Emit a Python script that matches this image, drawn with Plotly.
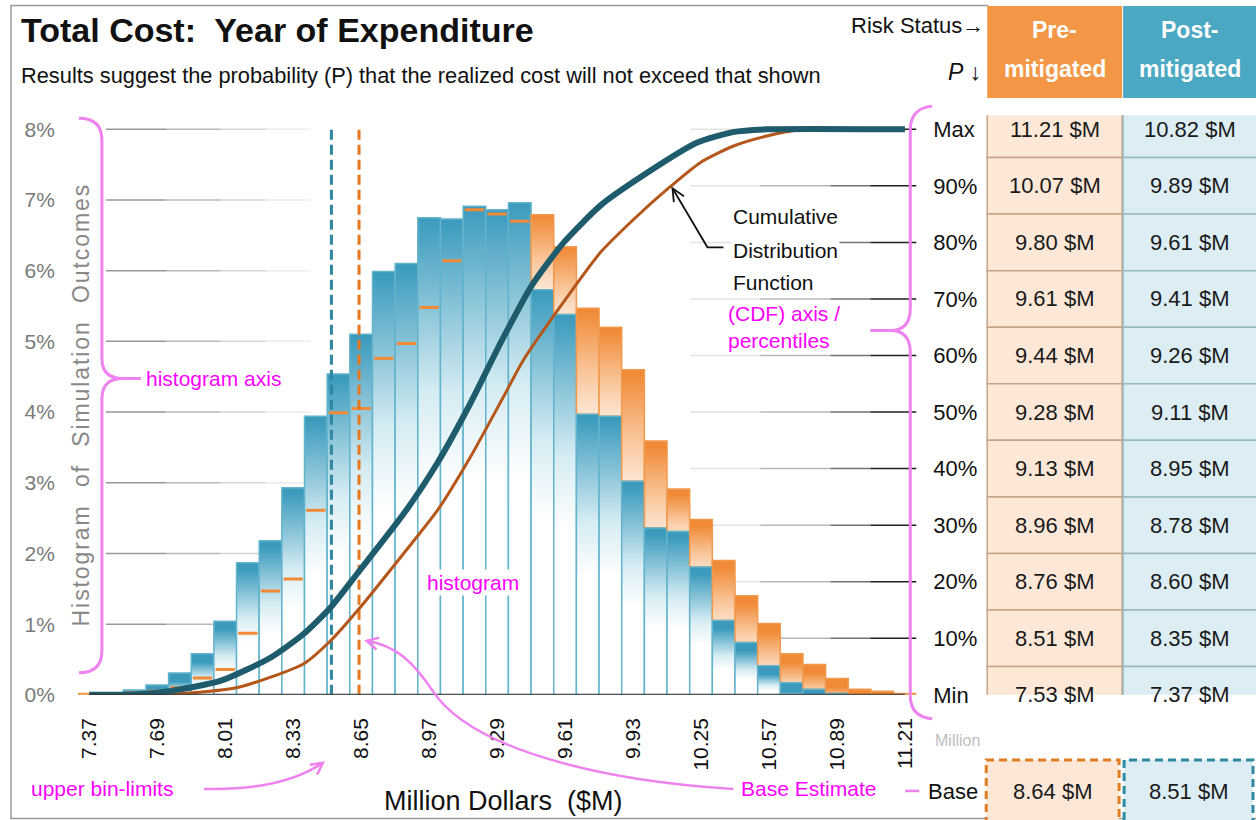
import math
import plotly.graph_objects as go

# reference canvas (pixels); the figure is laid out on a slightly taller page,
# positions are expressed as fractions of the reference canvas
W, H = 1256, 820
FW, FH = 1256, 834

# ---------------- data ----------------
tick_labels = ["7.37", "7.69", "8.01", "8.33", "8.65", "8.97", "9.29",
               "9.61", "9.93", "10.25", "10.57", "10.89", "11.21"]
bins_per_tick = 3

# histogram (% of simulation outcomes per bin)
post_pct = [0.00, 0.02, 0.07, 0.14, 0.31, 0.58, 1.04, 1.87, 2.18, 2.93, 3.94, 4.54,
            5.10, 5.99, 6.10, 6.75, 6.73, 6.91, 6.86, 6.96, 5.73, 5.38, 3.97, 3.94,
            3.02, 2.36, 2.31, 1.81, 1.05, 0.74, 0.41, 0.17, 0.08, 0.02, 0.00, 0.00, 0.00]
pre_pct = [0.02, 0.02, 0.03, 0.05, 0.10, 0.24, 0.36, 0.87, 1.47, 1.64, 2.61, 3.99,
           4.05, 4.76, 4.97, 5.48, 6.14, 6.86, 6.80, 6.70, 6.79, 6.34, 5.47, 5.20,
           4.60, 3.59, 2.91, 2.48, 1.90, 1.40, 1.01, 0.58, 0.43, 0.23, 0.08, 0.05, 0.02]

# cumulative distribution curves
post_cdf_x = [7.37, 7.60, 7.755, 7.99, 8.225, 8.38, 8.507, 8.633, 8.85, 9.009, 9.165,
              9.31, 9.455, 9.604, 9.776, 9.964, 10.23, 10.40, 10.56, 11.21]
post_cdf_y = [0, 0.1, 0.7, 2.5, 6.6, 10.8, 15.5, 21.5, 32.0, 41.0, 51.6,
              62.5, 72.5, 80.0, 86.5, 91.5, 97.6, 99.5, 100, 100]
pre_cdf_x = [7.37, 7.755, 8.069, 8.38, 8.507, 8.633, 8.85, 9.009, 9.165, 9.32, 9.414,
             9.621, 9.776, 9.931, 10.091, 10.246, 10.40, 10.56, 10.716, 10.80, 11.21]
pre_cdf_y = [0, 0.1, 1.3, 5.5, 9.6, 14.9, 25.0, 32.6, 42.1, 52.7, 59.2,
             70.4, 78.2, 84.0, 89.4, 94.1, 97.0, 98.8, 99.9, 100, 100]

base_pre = 8.64
base_post = 8.51

hist_ticks = [0, 1, 2, 3, 4, 5, 6, 7, 8]
hist_ticktext = ["0%", "1%", "2%", "3%", "4%", "5%", "6%", "7%", "8%"]
cdf_ticks = [0, 10, 20, 30, 40, 50, 60, 70, 80, 90, 100]
cdf_ticktext = ["Min", "10%", "20%", "30%", "40%", "50%", "60%", "70%", "80%", "90%", "Max"]

table_levels = [100, 90, 80, 70, 60, 50, 40, 30, 20, 10, 0]
pre_vals = [11.21, 10.07, 9.80, 9.61, 9.44, 9.28, 9.13, 8.96, 8.76, 8.51, 7.53]
post_vals = [10.82, 9.89, 9.61, 9.41, 9.26, 9.11, 8.95, 8.78, 8.60, 8.35, 7.37]

# ---------------- styling ----------------
FONT = "Liberation Sans, Arial, sans-serif"
NARROW = "Liberation Sans Narrow, Arial Narrow, Liberation Sans, Arial, sans-serif"
TEAL = "#3c9bbd"
TEAL_EDGE = "#62b3cc"
ORANGE = "#f08a36"
MAG = "#ff00ff"
PINK = "#ee82ee"

tick_vals = [float(t) for t in tick_labels]
x0v, x1v = tick_vals[0], tick_vals[-1]
bw = (tick_vals[1] - tick_vals[0]) / bins_per_tick
centers = [x0v + k * bw for k in range(len(post_pct))]

# pixel geometry of the plot area (reference pixels)
PX_L, PX_R = 77, 916
PY_B, PY_T = 694, 115
xr = [x0v - bw / 2, x1v + bw / 2]
yr = [0, 8.2]
y2r = [0, 102.5]


def fx(x):
    return x / W


def fy(y):
    return 1 - y / H


def P(x, y):
    return f"{fx(x):.5f},{fy(y):.5f}"


fig = go.Figure()

# ---------------- histogram bars ----------------
for c, hb, ho in zip(centers, post_pct, pre_pct):
    l, r = c - bw / 2, c + bw / 2
    if ho > hb:
        lo = hb
        fig.add_trace(go.Scatter(
            x=[l, l, r, r, l], y=[lo, ho, ho, lo, lo], mode="lines", fill="toself",
            line=dict(color="#f19a4e", width=1.5),
            fillgradient=dict(type="vertical",
                              colorscale=[[0, "#fdeadb"], [0.45, "#f9c497"], [1, ORANGE]],
                              start=lo, stop=ho),
            hoverinfo="skip", showlegend=False))
    if hb > 0:
        fig.add_trace(go.Scatter(
            x=[l, l, r, r, l], y=[0, hb, hb, 0, 0], mode="lines", fill="toself",
            line=dict(color=TEAL_EDGE, width=1.5),
            fillgradient=dict(type="vertical",
                              colorscale=[[0, "#ffffff"], [0.35, "#d5ecf3"], [1, TEAL]],
                              start=hb * 0.45, stop=hb),
            hoverinfo="skip", showlegend=False))

# orange markers where pre-mitigated is below post-mitigated
mx, my = [], []
for c, hb, ho in zip(centers, post_pct, pre_pct):
    if 0 < ho <= hb:
        mx += [c - bw / 2 + 0.008, c + bw / 2 - 0.008, None]
        my += [ho, ho, None]
fig.add_trace(go.Scatter(x=mx, y=my, mode="lines", line=dict(color=ORANGE, width=3),
                         hoverinfo="skip", showlegend=False))

# base estimate lines
fig.add_trace(go.Scatter(x=[base_post, base_post], y=[0, 8.05], mode="lines",
                         line=dict(color="#2e86a0", width=3, dash="10px,5px"),
                         hoverinfo="skip", showlegend=False))
fig.add_trace(go.Scatter(x=[base_pre, base_pre], y=[0, 8.05], mode="lines",
                         line=dict(color="#e5771f", width=3, dash="10px,5px"),
                         hoverinfo="skip", showlegend=False))

# CDF curves
fig.add_trace(go.Scatter(x=pre_cdf_x, y=pre_cdf_y, yaxis="y2", mode="lines",
                         line=dict(color="#b5561b", width=3, shape="spline", smoothing=0.6),
                         hoverinfo="skip", showlegend=False))
fig.add_trace(go.Scatter(x=post_cdf_x, y=post_cdf_y, yaxis="y2", mode="lines",
                         line=dict(color="#1e5b6c", width=6, shape="spline", smoothing=0.6),
                         hoverinfo="skip", showlegend=False))

shapes = []
annotations = []

# frame
shapes.append(dict(type="path", xref="paper", yref="paper",
                   path=f"M {P(988, 5.5)} L {P(10, 5.5)} L {P(10, 817.5)} L {P(1256, 817.5)}",
                   line=dict(color="#9a9a9a", width=1.5), layer="below"))

# fading grid lines (histogram axis, left)
for v in hist_ticks[1:]:
    for (a, b, op) in [(105, 165, 0.55), (165, 220, 0.38), (220, 265, 0.22), (265, 310, 0.1)]:
        shapes.append(dict(type="line", xref="paper", yref="y", x0=fx(a), x1=fx(b),
                           y0=v, y1=v, line=dict(color=f"rgba(70,70,70,{op})", width=1.5),
                           layer="below"))
# fading grid lines (CDF axis, right)
for v in cdf_ticks[1:]:
    for (a, b, op) in [(690, 760, 0.12), (760, 830, 0.3), (830, 870, 0.6), (870, 916, 0.95)]:
        shapes.append(dict(type="line", xref="paper", yref="y2", x0=fx(a), x1=fx(b),
                           y0=v, y1=v, line=dict(color=f"rgba(20,20,20,{op})", width=1.5),
                           layer="below"))

# baseline
shapes.append(dict(type="line", xref="x", yref="y", x0=x0v, x1=x1v, y0=0, y1=0,
                   line=dict(color="#333333", width=2)))

# braces
left_brace = (f"M {P(78,118)} Q {P(101,118)} {P(101,140)} L {P(101,358)} "
              f"Q {P(101,378)} {P(122,378)} L {P(140,378)} M {P(122,378)} "
              f"Q {P(101,378)} {P(101,398)} L {P(101,650)} Q {P(101,672)} {P(78,672)}")
right_brace = (f"M {P(932,106)} Q {P(910,108)} {P(910,130)} L {P(910,308)} "
               f"Q {P(910,330)} {P(890,330)} L {P(870,330)} M {P(890,330)} "
               f"Q {P(910,330)} {P(910,352)} L {P(910,695)} Q {P(910,716)} {P(932,718)}")
for pth in (left_brace, right_brace):
    shapes.append(dict(type="path", xref="paper", yref="paper", path=pth,
                       line=dict(color=PINK, width=3)))


def head(tip, tail, size=13, ang=28):
    dx, dy = tail[0] - tip[0], tail[1] - tip[1]
    L = math.hypot(dx, dy)
    ux, uy = dx / L, dy / L
    pts = []
    for s in (1, -1):
        a = math.radians(ang * s)
        rx = ux * math.cos(a) - uy * math.sin(a)
        ry = ux * math.sin(a) + uy * math.cos(a)
        pts.append((tip[0] + size * rx, tip[1] + size * ry))
    return f"M {P(*pts[0])} L {P(*tip)} L {P(*pts[1])}"


# magenta arrows
arr1 = f"M {P(203,788)} Q {P(280,790)} {P(322,762)}"
arr2 = (f"M {P(733,788)} C {P(600,780)} {P(470,748)} {P(432,690)} "
        f"C {P(412,660)} {P(395,645)} {P(366,640)}")
shapes.append(dict(type="path", xref="paper", yref="paper", path=arr1, line=dict(color=PINK, width=2.5)))
shapes.append(dict(type="path", xref="paper", yref="paper", path=head((322, 762), (300, 778)),
                   line=dict(color=PINK, width=2.5)))
shapes.append(dict(type="path", xref="paper", yref="paper", path=arr2, line=dict(color=PINK, width=2.5)))
shapes.append(dict(type="path", xref="paper", yref="paper", path=head((366, 640), (390, 646)),
                   line=dict(color=PINK, width=2.5)))
shapes.append(dict(type="path", xref="paper", yref="paper", path=f"M {P(905,790)} L {P(919,790)}",
                   line=dict(color=PINK, width=2.5)))
# black CDF arrow
shapes.append(dict(type="path", xref="paper", yref="paper",
                   path=f"M {P(723,247)} L {P(707,247)} L {P(672,188)}",
                   line=dict(color="#111111", width=1.8)))
shapes.append(dict(type="path", xref="paper", yref="paper", path=head((672, 188), (707, 247), 14, 25),
                   line=dict(color="#111111", width=1.8)))


def ann(text, x, y, size, color="#111111", xanchor="left", yanchor="middle", family=FONT,
        bg=None, **kw):
    d = dict(text=text, x=fx(x), y=fy(y), xref="paper", yref="paper", showarrow=False,
             xanchor=xanchor, yanchor=yanchor, font=dict(size=size, color=color, family=family))
    if bg:
        d["bgcolor"] = bg
    d.update(kw)
    annotations.append(d)


# titles
ann("<b>Total Cost:\u00a0 Year of Expenditure</b>", 18, 30, 34)
ann("Results suggest the probability (P) that the realized cost will not exceed that shown",
    18, 75, 21.8, family=NARROW)
ann("Risk Status\u2192", 986, 25, 22, xanchor="right", family=NARROW)
ann("<i>P</i> \u2193", 983, 72, 23, xanchor="right")
ytitle = "\u00a0\u00a0\u00a0".join("\u200a".join(w) for w in ["Histogram", "of", "Simulation", "Outcomes"])
ann(ytitle, 81, 405, 23, color="#888888", xanchor="center", textangle=-90)
ann("Million Dollars\u00a0 ($M)", 503, 800, 27, xanchor="center")
ann("Million", 957, 740, 16, color="#bdbdbd", xanchor="center")

# magenta labels
ann("histogram axis", 143, 378, 21, color=MAG, bg="white")
ann("histogram", 424, 582, 21, color=MAG, bg="white")
ann("(CDF) axis /", 726, 313, 21, color=MAG)
ann("percentiles", 726, 340, 21, color=MAG)
ann("upper bin-limits", 28, 788, 21, color=MAG)
ann("Base Estimate", 739, 788, 21, color=MAG)
for txt, yy in [("Cumulative", 216), ("Distribution", 250), ("Function", 282)]:
    ann(txt, 731, yy, 21, family=NARROW, bg="white")

# ---------------- table ----------------
XP0, XP1, XQ0, XQ1 = 987, 1122, 1123, 1256
col_pre = "#fde8d8"
col_post = "#dcedf4"
shapes.append(dict(type="rect", xref="paper", yref="paper", x0=fx(XP0), x1=fx(XP1),
                   y0=fy(98), y1=fy(6), fillcolor="#f39746", line=dict(width=0)))
shapes.append(dict(type="rect", xref="paper", yref="paper", x0=fx(XQ0), x1=fx(1262),
                   y0=fy(98), y1=fy(6), fillcolor="#4aa8c3", line=dict(width=0)))
for txt, yy in [("<b>Pre-</b>", 30), ("<b>mitigated</b>", 69)]:
    ann(txt, (XP0 + XP1) / 2, yy, 23, color="white", xanchor="center")
for txt, yy in [("<b>Post-</b>", 30), ("<b>mitigated</b>", 69)]:
    ann(txt, (XQ0 + XQ1) / 2, yy, 23, color="white", xanchor="center")

for lvl, pv, qv in zip(table_levels, pre_vals, post_vals):
    shapes.append(dict(type="rect", xref="paper", yref="y2", x0=fx(XP0), x1=fx(XP1),
                       y0=lvl - 5, y1=lvl + 5, fillcolor=col_pre,
                       line=dict(color="#c6a488", width=1.5)))
    shapes.append(dict(type="rect", xref="paper", yref="y2", x0=fx(XQ0), x1=fx(1262),
                       y0=lvl - 5, y1=lvl + 5, fillcolor=col_post,
                       line=dict(color="#9ab8c3", width=1.5)))
    annotations.append(dict(text=f"{pv:.2f} $M", x=fx((XP0 + XP1) / 2), y=lvl, xref="paper",
                            yref="y2", showarrow=False, xanchor="center", yanchor="middle",
                            font=dict(size=22, color="#1a1a1a", family=FONT)))
    annotations.append(dict(text=f"{qv:.2f} $M", x=fx((XQ0 + XQ1) / 2), y=lvl, xref="paper",
                            yref="y2", showarrow=False, xanchor="center", yanchor="middle",
                            font=dict(size=22, color="#1a1a1a", family=FONT)))

# base row
shapes.append(dict(type="rect", xref="paper", yref="paper", x0=fx(986), x1=fx(1119),
                   y0=fy(826), y1=fy(759), fillcolor=col_pre,
                   line=dict(color="#e07c22", width=3, dash="8px,5px")))
shapes.append(dict(type="rect", xref="paper", yref="paper", x0=fx(1124), x1=fx(1253),
                   y0=fy(826), y1=fy(759), fillcolor=col_post,
                   line=dict(color="#2e8aa0", width=3, dash="8px,5px")))
ann("Base", 980, 791, 22, xanchor="right", family=NARROW)
ann(f"{base_pre:.2f} $M", 1053, 791, 22, xanchor="center", color="#1a1a1a")
ann(f"{base_post:.2f} $M", 1189, 791, 22, xanchor="center", color="#1a1a1a")

fig.update_layout(
    width=FW, height=FH, margin=dict(l=0, r=0, t=0, b=0),
    paper_bgcolor="white", plot_bgcolor="rgba(0,0,0,0)",
    showlegend=False, hovermode=False,
    xaxis=dict(domain=[fx(PX_L), fx(PX_R)], range=xr, tickvals=tick_vals, ticktext=tick_labels,
               tickangle=-90, ticks="", showgrid=False, zeroline=False, showline=False,
               tickfont=dict(size=21, color="#111111", family=FONT), ticklabelstandoff=18),
    yaxis=dict(domain=[fy(PY_B), fy(PY_T)], range=yr, tickvals=hist_ticks,
               ticktext=hist_ticktext, ticks="", showgrid=False, zeroline=False, showline=False,
               tickfont=dict(size=21, color="#7a7a7a", family=FONT), ticklabelstandoff=22),
    yaxis2=dict(overlaying="y", side="right", anchor="x", range=y2r, tickvals=cdf_ticks,
                ticktext=cdf_ticktext, ticks="", showgrid=False, zeroline=False, showline=False,
                tickfont=dict(size=22, color="#111111", family=FONT), ticklabelstandoff=16),
    shapes=shapes, annotations=annotations,
)

fig.write_html(
    "out.html",
    config={"displayModeBar": False, "staticPlot": True},
    post_script=("var b=document.body,d=document.documentElement;"
                 "b.style.margin='0px';b.style.overflow='hidden';d.style.overflow='hidden';"),
)
